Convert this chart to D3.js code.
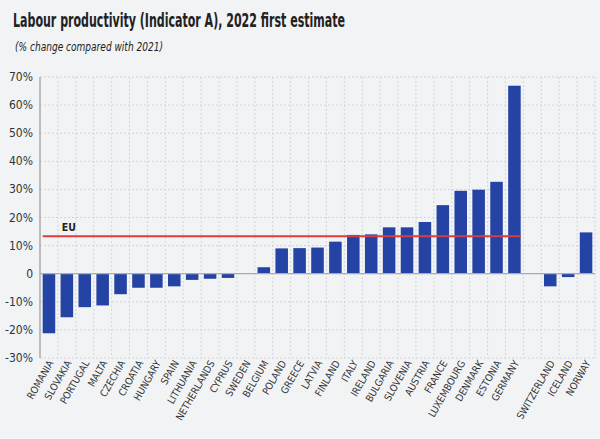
<!DOCTYPE html>
<meta charset="utf-8">
<head>
  <script src="https://cdn.jsdelivr.net/npm/d3@7"></script>
  <style>
    body { margin: 0; background: #f2f3f5; }
    text { font-family: "DejaVu Sans Condensed", "DejaVu Sans", sans-serif; font-stretch: condensed; }
  </style>
</head>
<body>
<div id="container"></div>
<script>
// Data
var countries = ["ROMANIA", "SLOVAKIA", "PORTUGAL", "MALTA", "CZECHIA", "CROATIA", "HUNGARY", "SPAIN",
  "LITHUANIA", "NETHERLANDS", "CYPRUS", "SWEDEN", "BELGIUM", "POLAND", "GREECE", "LATVIA", "FINLAND",
  "ITALY", "IRELAND", "BULGARIA", "SLOVENIA", "AUSTRIA", "FRANCE", "LUXEMBOURG", "DENMARK", "ESTONIA",
  "GERMANY", "", "SWITZERLAND", "ICELAND", "NORWAY"];
var values = [-21.2, -15.5, -11.9, -11.3, -7.3, -5.0, -5.0, -4.5,
  -2.2, -1.8, -1.5, 0, 2.3, 9.0, 9.1, 9.3, 11.4,
  13.8, 14.0, 16.5, 16.5, 18.4, 24.4, 29.5, 29.9, 32.7,
  66.9, null, -4.5, -1.2, 14.7];
var euValue = 13.3;
var yTicks = [-30, -20, -10, 0, 10, 20, 30, 40, 50, 60, 70];

var width = 600, height = 439;
var mLeft = 40, mRight = 595, mTop = 77, mBottom = 358;

var svg = d3.select("#container").append("svg")
  .attr("width", width).attr("height", height);

svg.append("rect").attr("width", width).attr("height", height).attr("fill", "#f2f3f5");

var x = d3.scaleBand().domain(countries.map(function (d, i) { return i; }))
  .range([mLeft, mRight]).paddingInner(0.3).paddingOuter(0.15);
var y = d3.scaleLinear().domain([-30, 70]).range([mBottom, mTop]);
var step = x.step();

// title
svg.append("text").attr("x", 13).attr("y", 27)
  .attr("font-size", 19).attr("font-weight", "bold").attr("fill", "#222")
  .attr("textLength", 332).attr("lengthAdjust", "spacingAndGlyphs")
  .text("Labour productivity (Indicator A), 2022 first estimate");
svg.append("text").attr("x", 15).attr("y", 51)
  .attr("font-size", 12.5).attr("font-style", "italic").attr("fill", "#222")
  .attr("textLength", 148).attr("lengthAdjust", "spacingAndGlyphs")
  .text("(% change compared with 2021)");

// grid
var grid = svg.append("g").attr("stroke", "#cfd1d5").attr("stroke-dasharray", "2,2").attr("stroke-width", 0.9);
yTicks.filter(function (t) { return t !== 0; }).forEach(function (t) {
  grid.append("line").attr("x1", mLeft).attr("x2", mRight).attr("y1", y(t)).attr("y2", y(t));
});
d3.range(1, countries.length + 1).forEach(function (i) {
  var gx = mLeft + step * i;
  grid.append("line").attr("x1", gx).attr("x2", gx).attr("y1", mTop).attr("y2", mBottom);
});

// y labels
svg.append("g").selectAll("text").data(yTicks).join("text")
  .attr("x", 33).attr("y", function (d) { return y(d) + 4; })
  .attr("text-anchor", "end").attr("font-size", 12).attr("fill", "#333")
  .text(function (d) { return d === 0 ? "0" : d + "%"; });

// bars
svg.append("g").selectAll("rect").data(values.map(function (v, i) { return { v: v, i: i }; })
    .filter(function (d) { return d.v !== null && d.v !== 0; }))
  .join("rect")
  .attr("x", function (d) { return x(d.i); })
  .attr("width", x.bandwidth())
  .attr("y", function (d) { return y(Math.max(0, d.v)); })
  .attr("height", function (d) { return Math.abs(y(d.v) - y(0)); })
  .attr("fill", "#2443a4");

// axes lines
svg.append("line").attr("x1", mLeft).attr("x2", mRight).attr("y1", y(0)).attr("y2", y(0))
  .attr("stroke", "#a9abae").attr("stroke-width", 1.2);
svg.append("line").attr("x1", mLeft).attr("x2", mLeft).attr("y1", mTop).attr("y2", mBottom)
  .attr("stroke", "#a9abae").attr("stroke-width", 1.5);

// EU line
var gi = countries.indexOf("GERMANY");
svg.append("line").attr("x1", x(0)).attr("x2", x(gi) + x.bandwidth())
  .attr("y1", y(euValue)).attr("y2", y(euValue))
  .attr("stroke", "#dc3c3c").attr("stroke-width", 2);
svg.append("text").attr("x", x(0) + 19).attr("y", y(euValue) - 5)
  .attr("font-size", 10.5).attr("font-weight", "bold").attr("fill", "#222").text("EU");

// x labels
svg.append("g").selectAll("text").data(countries.map(function (c, i) { return { c: c, i: i }; })
    .filter(function (d) { return d.c !== ""; }))
  .join("text")
  .attr("transform", function (d) {
    return "translate(" + (x(d.i) + x.bandwidth() / 2 + 5) + "," + (mBottom + 5) + ") rotate(-60)";
  })
  .attr("text-anchor", "end").attr("font-size", 10).attr("fill", "#333")
  .text(function (d) { return d.c; });
</script>
</body>
